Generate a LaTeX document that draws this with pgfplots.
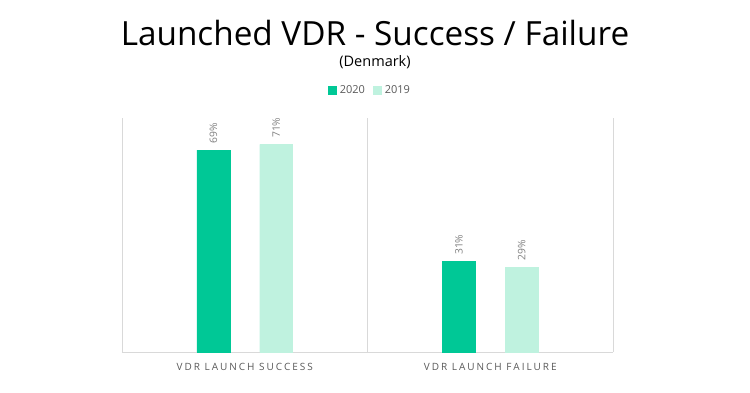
\documentclass[border=0pt]{standalone}
\usepackage{fontspec}
\setmainfont{Open Sans}
\usepackage{pgfplots}
\pgfplotsset{compat=1.18}
\definecolor{c20}{HTML}{00C896}
\definecolor{c19}{HTML}{BFF2DF}
\definecolor{gridc}{HTML}{D9D9D9}
\definecolor{lblc}{HTML}{7F7F7F}
\definecolor{tickc}{HTML}{595959}
\begin{document}
\begin{tikzpicture}[x=1pt,y=1pt]
\useasboundingbox (-122,-40) rectangle (628,352);
\begin{axis}[
  at={(0,0)}, anchor=south west,
  scale only axis, width=491pt, height=234pt,
  xmin=-0.5, xmax=1.5, ymin=0, ymax=80,
  axis x line*=bottom, axis y line=none,
  x axis line style={draw=gridc, line width=0.8pt, -},
  xtick={0,1}, xticklabels={VDR LAUNCH SUCCESS, VDR LAUNCH FAILURE},
  xtick style={draw=none},
  xticklabel style={font=\fontsize{10}{12}\selectfont\addfontfeatures{LetterSpace=20}, text=tickc, yshift=-3pt},
  minor xtick={-0.5,0.5,1.5}, xminorgrids, minor x grid style={draw=gridc, line width=0.8pt},
  minor tick length=0pt,
  ytick=\empty,
  ybar, bar width=0.134,
  nodes near coords={\pgfmathprintnumber[assume math mode=true]{\pgfplotspointmeta}\%},
  nodes near coords style={rotate=90, anchor=west, font=\fontsize{10.3}{12}\selectfont, text=lblc, xshift=3pt},
  legend columns=2,
  legend style={at={(0.505,1.12)}, anchor=center, draw=none, fill=none, font=\fontsize{11}{13}\selectfont, text=tickc,
    /tikz/every odd column/.append style={column sep=1.5pt},
    /tikz/every even column/.append style={column sep=6pt}},
  legend image code/.code={\fill[#1] (0pt,-4pt) rectangle (8pt,4pt);},
  clip=false,
]
\addplot[fill=c20, draw=c20, bar shift=0] coordinates {(-0.128,69) (0.872,31)};
\addlegendentry{2020}
\addplot[fill=c19, draw=c19, bar shift=0] coordinates {(0.128,71) (1.128,29)};
\addlegendentry{2019}
\end{axis}
\node[font=\fontsize{33.3}{40}\selectfont] at (253,319) {Launched VDR - Success / Failure};
\node[font=\fontsize{14.5}{17}\selectfont] at (253,290) {(Denmark)};
\end{tikzpicture}
\end{document}
